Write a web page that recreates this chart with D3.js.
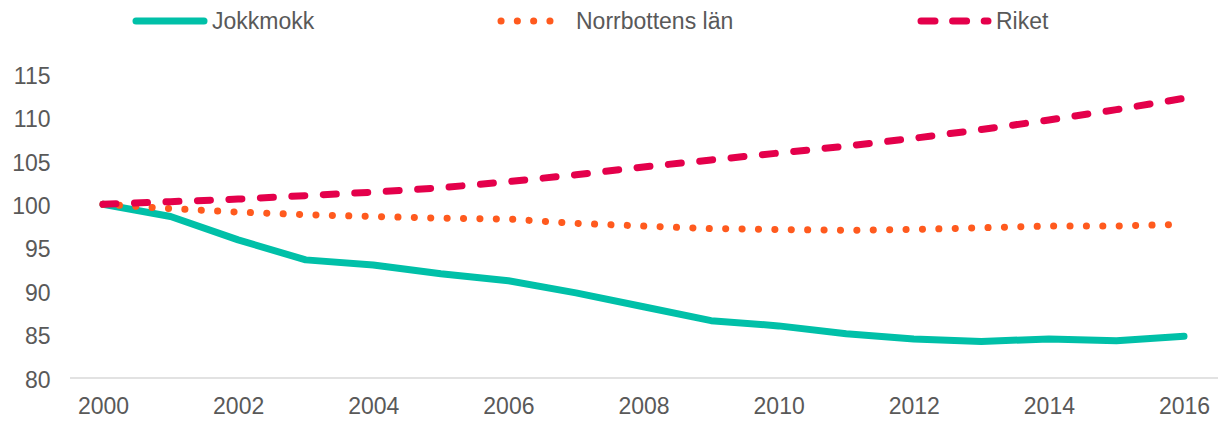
<!DOCTYPE html>
<html><head><meta charset="utf-8">
<script src="https://cdn.jsdelivr.net/npm/d3@7"></script>
<style>body{margin:0;background:#fff;}svg{display:block;font-family:"Liberation Sans",Arial,sans-serif;}</style>
</head><body><svg id="c" width="1223" height="421"></svg>
<script>
const years = [2000,2001,2002,2003,2004,2005,2006,2007,2008,2009,2010,2011,2012,2013,2014,2015,2016];
const jokkmokk = [100,98.6,95.9,93.6,93.0,92.0,91.2,89.8,88.2,86.6,86.0,85.1,84.5,84.2,84.5,84.3,84.8];
const norrbotten = [100,99.5,99.1,98.8,98.6,98.4,98.3,97.8,97.5,97.2,97.1,97.0,97.1,97.3,97.5,97.5,97.7];
const riket = [100,100.3,100.6,101.0,101.4,101.9,102.6,103.4,104.3,105.1,105.9,106.7,107.6,108.6,109.7,110.9,112.2];
const yTicks = [80,85,90,95,100,105,110,115];
const xTicks = [2000,2002,2004,2006,2008,2010,2012,2014,2016];
const seriesNames = ["Jokkmokk","Norrbottens län","Riket"];

const FONT = "23px";
const svg = d3.select("#c");
const x = d3.scaleLinear().domain([2000,2016]).range([103,1184]);
const y = d3.scaleLinear().domain([80,115]).range([378,74]);

svg.append("line").attr("x1",70).attr("x2",1218).attr("y1",y(80)).attr("y2",y(80))
  .attr("stroke","#d9d9d9").attr("stroke-width",1.5);

const yAx = svg.append("g").attr("transform","translate(50.5,0)")
  .call(d3.axisLeft(y).tickValues(yTicks).tickSize(0).tickPadding(0));
yAx.select(".domain").remove();
yAx.selectAll("text").attr("fill","#595959").attr("dy","0.4em").style("font-size",FONT).style("font-family","Liberation Sans, Arial, sans-serif");

const xAx = svg.append("g").attr("transform","translate(0,"+y(80)+")")
  .call(d3.axisBottom(x).tickValues(xTicks).tickFormat(d3.format("d")).tickSize(0).tickPadding(20));
xAx.select(".domain").remove();
xAx.selectAll("text").attr("fill","#595959").style("font-size",FONT).style("font-family","Liberation Sans, Arial, sans-serif");

const styles = [
  {data:jokkmokk,color:"#00c0a8",dash:null,legDash:null},
  {data:norrbotten,color:"#ff5a1e",dash:"0.1,16.3",legDash:"0.1,16.2"},
  {data:riket,color:"#e4004b",dash:"13,18.5",legDash:"14,17.6"}
];
const line = d3.line().x((d,i)=>x(years[i])).y(d=>y(d));
styles.forEach(s=>{
  const p = svg.append("path").datum(s.data).attr("d",line).attr("fill","none")
    .attr("stroke",s.color).attr("stroke-width",7).attr("stroke-linecap","round").attr("stroke-linejoin","round");
  if(s.dash) p.attr("stroke-dasharray",s.dash);
});

const legStart = [136,501,921];
const legEnd = [204,566,988];
const legText = [212,576,996];
seriesNames.forEach((n,i)=>{
  const s = styles[i];
  const l = svg.append("line").attr("x1",legStart[i]).attr("x2",legEnd[i]).attr("y1",21).attr("y2",21)
    .attr("stroke",s.color).attr("stroke-width",7).attr("stroke-linecap","round");
  if(s.legDash) l.attr("stroke-dasharray",s.legDash);
  svg.append("text").attr("x",legText[i]).attr("y",21).attr("dy","0.36em")
    .attr("fill","#595959").style("font-size",FONT).text(n);
});
</script></body></html>
